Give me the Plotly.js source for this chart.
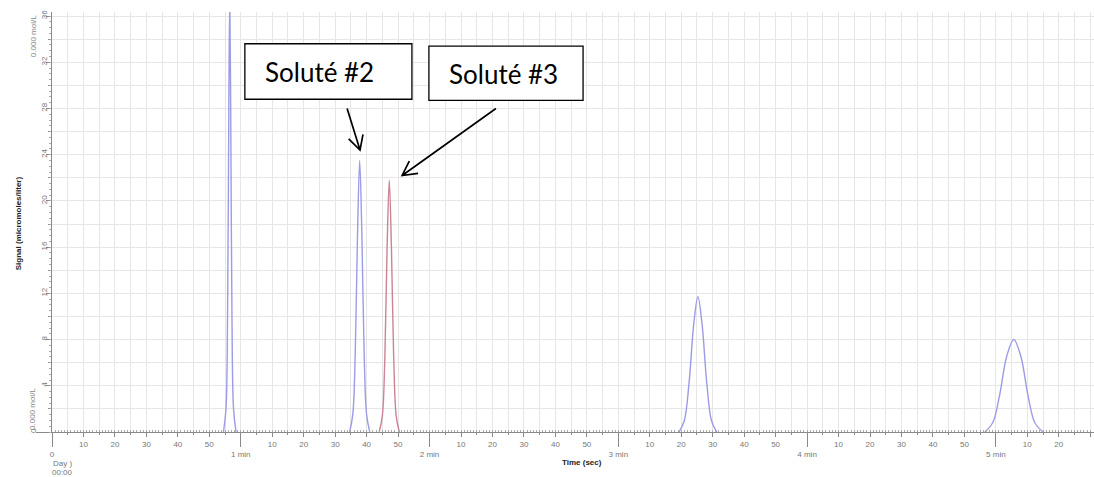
<!DOCTYPE html>
<html>
<head>
<meta charset="utf-8">
<script src="https://cdn.plot.ly/plotly-3.0.1.min.js"></script>
<style>html,body{margin:0;padding:0;background:#fff;}#chart{width:1094px;height:477px;}</style>
</head>
<body>
<div id="chart"></div>
<script>
// Blue solute peaks (time in seconds, signal in micromoles/liter); null separates peaks
var blueTime = [54.5, 55.3, 55.8, 56.2, 56.5, 56.8, 57.2, 57.7, 58.5, null,
                94.6, 95.6, 96.4, 97.1, 97.8, 98.5, 99.2, 100.0, 101.0, null,
                199.3, 201.0, 202.5, 204.0, 205.3, 206.6, 208.1, 209.6, 211.3, null,
                296.5, 299.0, 301.2, 303.5, 305.7, 307.9, 310.2, 312.4, 315.0];
var blueSignal = [0, 2, 10, 28, 37.5, 28, 10, 2, 0, null,
                  0, 1.5, 7, 17, 23.5, 17, 7, 1.5, 0, null,
                  0, 1.0, 4.3, 9.4, 11.7, 9.4, 4.3, 1.0, 0, null,
                  0, 0.8, 3.2, 6.6, 8.0, 6.6, 3.2, 0.8, 0];
// Red solute peak (Soluté #3)
var redTime = [104.0, 105.0, 105.8, 106.5, 107.2, 107.9, 108.6, 109.4, 110.4];
var redSignal = [0, 1.4, 6.5, 15.8, 21.8, 15.8, 6.5, 1.4, 0];

// Tick labels
var secTickVals = [10,20,30,40,50, 70,80,90,100,110, 130,140,150,160,170, 190,200,210,220,230, 250,260,270,280,290, 310,320,330];
var secTickText = secTickVals.map(function(v){ return String(v % 60); });
var minTickVals = [0, 60, 120, 180, 240, 300];
var minTickText = ["0", "1 min", "2 min", "3 min", "4 min", "5 min"];
var dayLabels = ["Day )", "00:00"];
var yTickVals = [4, 8, 12, 16, 20, 24, 28, 32, 36];
var yTickText = ["4", "8", "12", "16", "20", "24", "28", "32", "36"];

// Annotation labels and the points they mark (time s, signal)
var soluteLabels = ["Soluté #2", "Soluté #3"];
var arrowTips = [[97.9, 24.4], [111.3, 22.2]];
var arrowTails = [[93.8, 28.0], [141.1, 28.0]];

var XR = [0, 331.2], YR = [0, 36.35];
var PLOT_W = 1042, PLOT_H = 420;
var sx = PLOT_W / (XR[1] - XR[0]), sy = PLOT_H / (YR[1] - YR[0]);
var axColor = '#8a8a8a', gridColor = '#e6e6e6';
var tickFont = {family: 'Liberation Sans, Arial, sans-serif', size: 8, color: '#777'};

function arrowPath(tip, tail) {
  // pixel-space direction, y pointing down
  var dx = (tail[0] - tip[0]) * sx, dy = -(tail[1] - tip[1]) * sy;
  var L = Math.sqrt(dx * dx + dy * dy); dx /= L; dy /= L;
  var legLen = 16, ang = 28 * Math.PI / 180, legs = [];
  [ang, -ang].forEach(function(a){
    var rx = dx * Math.cos(a) - dy * Math.sin(a), ry = dx * Math.sin(a) + dy * Math.cos(a);
    legs.push([tip[0] + rx * legLen / sx, tip[1] - ry * legLen / sy]);
  });
  return 'M' + tail[0] + ',' + tail[1] + 'L' + tip[0] + ',' + tip[1] +
         'M' + legs[0][0] + ',' + legs[0][1] + 'L' + tip[0] + ',' + tip[1] + 'L' + legs[1][0] + ',' + legs[1][1];
}

var traces = [
  {x: blueTime, y: blueSignal, type: 'scatter', mode: 'lines', connectgaps: false,
   line: {color: '#9c9ce6', width: 1.4, shape: 'spline', smoothing: 1}, hoverinfo: 'skip', showlegend: false},
  {x: redTime, y: redSignal, type: 'scatter', mode: 'lines',
   line: {color: '#cc8494', width: 1.4, shape: 'spline', smoothing: 1}, hoverinfo: 'skip', showlegend: false},
  {x: [0], y: [0], xaxis: 'x2', yaxis: 'y2', mode: 'markers', marker: {opacity: 0}, hoverinfo: 'skip', showlegend: false},
  {x: [0], y: [0], xaxis: 'x3', yaxis: 'y3', mode: 'markers', marker: {opacity: 0}, hoverinfo: 'skip', showlegend: false}
];

var boxFont = {family: 'Lato, Liberation Sans, sans-serif', size: 26, color: '#000'};
var smallFont = {family: 'Liberation Sans, Arial, sans-serif', size: 8, color: '#777'};

var layout = {
  width: 1094, height: 477,
  margin: {l: 52, r: 0, t: 12, b: 45, pad: 0},
  paper_bgcolor: '#fff', plot_bgcolor: '#fff',
  font: {family: 'Liberation Sans, Arial, sans-serif'},
  xaxis: {range: XR, tickmode: 'array', tickvals: secTickVals, ticktext: secTickText,
          ticks: 'outside', ticklen: 4, tickcolor: axColor, tickfont: tickFont,
          showline: true, linecolor: axColor, linewidth: 1, zeroline: false,
          showgrid: true, gridcolor: gridColor, gridwidth: 1,
          minor: {dtick: 5, tick0: 0, showgrid: true, gridcolor: gridColor, ticks: 'outside', ticklen: 2, tickcolor: axColor}},
  xaxis2: {range: XR, overlaying: 'x', anchor: 'y', side: 'bottom', tickmode: 'array', tickvals: minTickVals, ticktext: minTickText,
           ticks: 'outside', ticklen: 14, tickcolor: axColor, tickfont: tickFont,
           showline: false, showgrid: false, zeroline: false},
  xaxis3: {range: XR, overlaying: 'x', anchor: 'y', side: 'bottom', tickmode: 'linear', tick0: 0, dtick: 1,
           ticks: 'inside', ticklen: 2, tickcolor: '#aaa', showticklabels: false,
           showline: false, showgrid: false, zeroline: false},
  yaxis: {range: YR, tickmode: 'array', tickvals: yTickVals, ticktext: yTickText,
          ticks: 'outside', ticklen: 5, tickcolor: axColor, tickfont: tickFont, tickangle: -90, ticklabelstandoff: -4,
          showline: true, linecolor: axColor, linewidth: 1, zeroline: false,
          showgrid: true, gridcolor: gridColor,
          minor: {dtick: 2, tick0: 0, showgrid: true, gridcolor: gridColor, ticks: 'outside', ticklen: 3, tickcolor: axColor}},
  yaxis2: {range: YR, overlaying: 'y', anchor: 'x', side: 'left', tickmode: 'array', tickvals: [0], ticktext: ['0'],
           ticks: 'outside', ticklen: 15, tickcolor: axColor, tickfont: tickFont, tickangle: -90, ticklabelstandoff: -3,
           showline: false, showgrid: false, zeroline: false},
  yaxis3: {range: YR, overlaying: 'y', anchor: 'x', side: 'left', tickmode: 'linear', tick0: 0, dtick: 0.5,
           ticks: 'outside', ticklen: 2, tickcolor: '#aaa', showticklabels: false,
           showline: false, showgrid: false, zeroline: false},
  shapes: [
    {type: 'rect', xref: 'x', yref: 'y', x0: 61.3, x1: 114.4, y0: 28.8, y1: 33.6,
     line: {color: '#000', width: 1.3}, fillcolor: '#fff', layer: 'above'},
    {type: 'rect', xref: 'x', yref: 'y', x0: 119.8, x1: 168.8, y0: 28.7, y1: 33.4,
     line: {color: '#000', width: 1.3}, fillcolor: '#fff', layer: 'above'},
    {type: 'path', xref: 'x', yref: 'y', path: arrowPath(arrowTips[0], arrowTails[0]),
     line: {color: '#000', width: 1.7}, layer: 'above'},
    {type: 'path', xref: 'x', yref: 'y', path: arrowPath(arrowTips[1], arrowTails[1]),
     line: {color: '#000', width: 1.7}, layer: 'above'}
  ],
  annotations: [
    {xref: 'x', yref: 'y', x: 85.1, y: 31.2, text: soluteLabels[0], showarrow: false, font: boxFont},
    {xref: 'x', yref: 'y', x: 143.5, y: 31.0, text: soluteLabels[1], showarrow: false, font: boxFont},
    {xref: 'x', yref: 'paper', x: 0, xanchor: 'left', xshift: -1, y: -0.074, yanchor: 'middle', text: dayLabels[0], showarrow: false, font: smallFont},
    {xref: 'x', yref: 'paper', x: 0, xanchor: 'left', xshift: -1, y: -0.097, yanchor: 'middle', text: dayLabels[1], showarrow: false, font: smallFont, borderpad: 0},
    {xref: 'paper', yref: 'y', x: -0.024, y: 34.3, text: '0.000 mol/L', textangle: -90, showarrow: false,
     font: {family: 'Liberation Sans, Arial, sans-serif', size: 8, color: '#888'}},
    {xref: 'paper', yref: 'y', x: -0.025, y: 2.03, text: '0.000 mol/L', textangle: -90, showarrow: false,
     font: {family: 'Liberation Sans, Arial, sans-serif', size: 8, color: '#888'}},
    {xref: 'paper', yref: 'y', x: -0.0385, y: 18.1, text: '<b>Signal (micromoles/liter)</b>', textangle: -90, showarrow: false,
     font: {family: 'Liberation Sans, Arial, sans-serif', size: 8, color: '#222'}},
    {xref: 'x', yref: 'paper', x: 168.4, y: -0.088, text: '<b>Time (sec)</b>', showarrow: false,
     font: {family: 'Liberation Sans, Arial, sans-serif', size: 8, color: '#222'}}
  ]
};

Plotly.newPlot('chart', traces, layout, {displayModeBar: false, staticPlot: true});
</script>
</body>
</html>
